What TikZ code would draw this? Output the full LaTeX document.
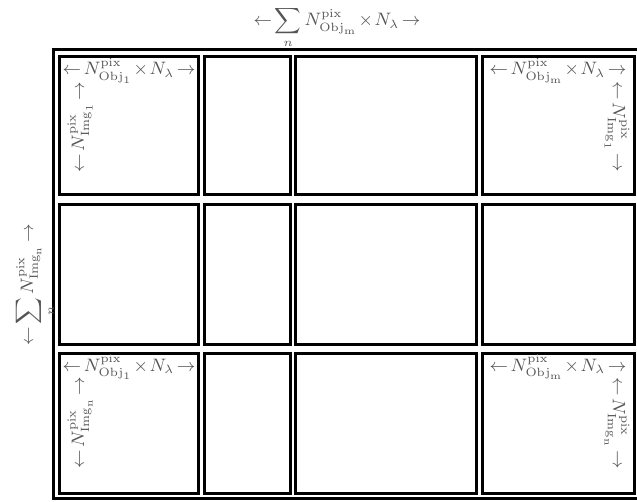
\documentclass[tikz,border=0pt]{standalone}
\usepackage{amsmath}
\definecolor{labelgray}{RGB}{85,85,85}
\newcommand{\tightmath}{\thickmuskip=2.5mu\medmuskip=1.5mu\relax}
\begin{document}
\begin{tikzpicture}[x=0.5pt,y=-0.5pt,
  cell/.style={draw=black,line width=1.5pt},
  frame/.style={draw=black,line width=1.5pt},
  lbl/.style={text=labelgray,inner sep=0pt,font=\fontsize{8.6}{10}\selectfont},
  biglbl/.style={text=labelgray,inner sep=0pt,font=\fontsize{9}{11}\selectfont}]
\useasboundingbox (0,0) rectangle (637,502);
\clip (0,0) rectangle (637,502);
% outer frame
\draw[frame] (53,50) rectangle (643,498);
% cells
\foreach \ya/\yb in {57/195,205/344,353/493}{
  \foreach \xa/\xb in {59/198,204/290,295/476,482/634}{
    \draw[cell] (\xa,\ya) rectangle (\xb,\yb);
  }
}
% outer labels
\node[biglbl,anchor=base] (toplbl) at (337,26) {$\tightmath\leftarrow \displaystyle\sum_{n} N^{\mathrm{pix}}_{\mathrm{Obj}_{\mathrm{m}}} \times N_{\lambda} \rightarrow$};
\node[biglbl,rotate=90,anchor=base] (leftlbl) at (33,285) {$\tightmath\leftarrow \displaystyle\sum_{n} N^{\mathrm{pix}}_{\mathrm{Img}_{\mathrm{n}}} \rightarrow$};
% row 1
\node[lbl,anchor=base] (t11) at (129,75) {$\tightmath\leftarrow N^{\mathrm{pix}}_{\mathrm{Obj}_{1}} \times N_{\lambda} \rightarrow$};
\node[lbl,rotate=90] (l11) at (80,127) {$\tightmath\leftarrow N^{\mathrm{pix}}_{\mathrm{Img}_{1}} \rightarrow$};
\node[lbl,anchor=base] (t14) at (558,75) {$\tightmath\leftarrow N^{\mathrm{pix}}_{\mathrm{Obj}_{\mathrm{m}}} \times N_{\lambda} \rightarrow$};
\node[lbl,rotate=-90] (r14) at (617,127) {$\tightmath\leftarrow N^{\mathrm{pix}}_{\mathrm{Img}_{1}} \rightarrow$};
% row 3
\node[lbl,anchor=base] (t31) at (129,371) {$\tightmath\leftarrow N^{\mathrm{pix}}_{\mathrm{Obj}_{1}} \times N_{\lambda} \rightarrow$};
\node[lbl,rotate=90] (l31) at (80,423) {$\tightmath\leftarrow N^{\mathrm{pix}}_{\mathrm{Img}_{\mathrm{n}}} \rightarrow$};
\node[lbl,anchor=base] (t34) at (558,371) {$\tightmath\leftarrow N^{\mathrm{pix}}_{\mathrm{Obj}_{\mathrm{m}}} \times N_{\lambda} \rightarrow$};
\node[lbl,rotate=-90] (r34) at (617,423) {$\tightmath\leftarrow N^{\mathrm{pix}}_{\mathrm{Img}_{\mathrm{n}}} \rightarrow$};
\end{tikzpicture}
\end{document}
